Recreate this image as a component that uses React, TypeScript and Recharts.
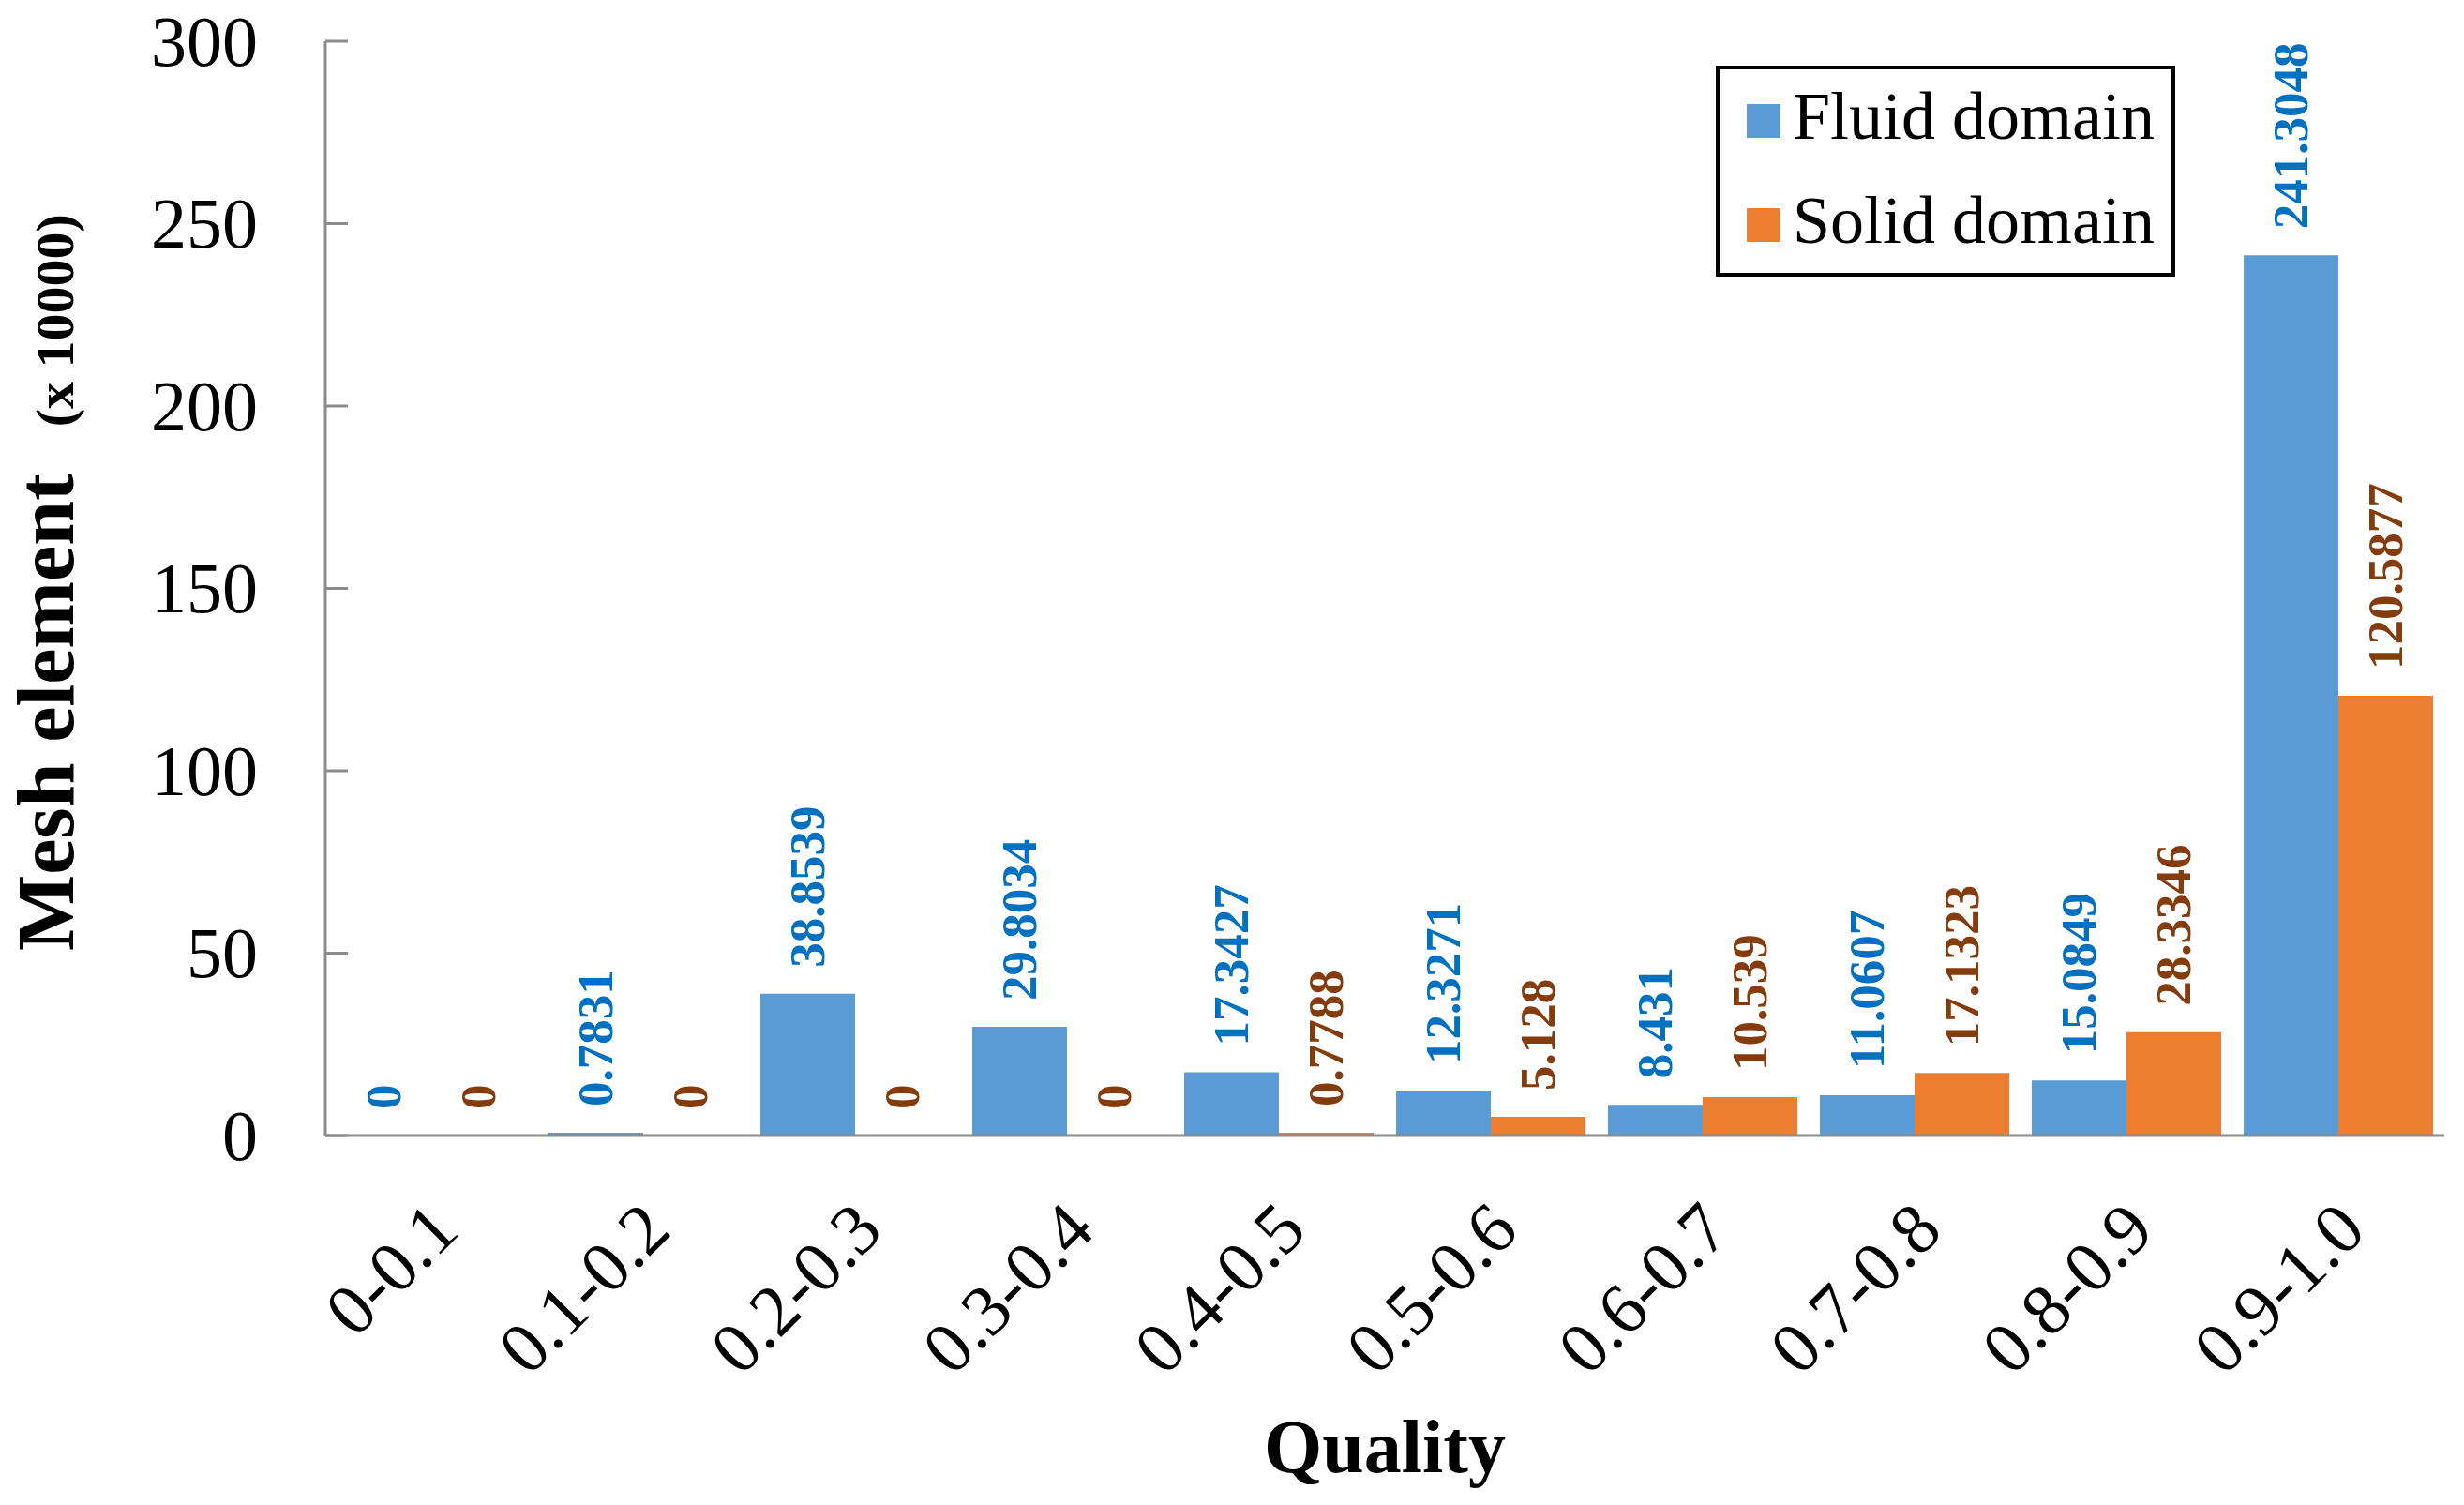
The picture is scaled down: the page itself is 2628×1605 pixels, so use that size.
import React from 'react';
import { BarChart, Bar, XAxis, YAxis, LabelList } from 'recharts';

const categories = ['0-0.1', '0.1-0.2', '0.2-0.3', '0.3-0.4', '0.4-0.5', '0.5-0.6', '0.6-0.7', '0.7-0.8', '0.8-0.9', '0.9-1.0'];
const fluidValues = [0, 0.7831, 38.8539, 29.8034, 17.3427, 12.3271, 8.431, 11.0607, 15.0849, 241.3048];
const solidValues = [0, 0, 0, 0, 0.7788, 5.128, 10.539, 17.1323, 28.3346, 120.5877];
const yTicks = [0, 50, 100, 150, 200, 250, 300];
const seriesNames = ['Fluid domain', 'Solid domain'];

const W = 2628;
const H = 1605;
const SERIF = '"Liberation Serif", "Times New Roman", Times, serif';
const AXIS = '#8c8c8c';
const FLUID = '#5B9BD5';
const SOLID = '#ED7D31';
const FLUID_LABEL = '#0070C0';
const SOLID_LABEL = '#843C0C';

const data = categories.map((c, i) => ({ cat: c, fluid: fluidValues[i], solid: solidValues[i] }));

const YTick = (props: any) => {
  const { x, y, payload } = props;
  return (
    <g>
      <line x1={x + 72} x2={x + 96} y1={y} y2={y} stroke={AXIS} strokeWidth={3} />
      <text x={x} y={y} dy="0.34em" textAnchor="end" fontFamily={SERIF} fontSize={76} fill="#000">
        {payload.value}
      </text>
    </g>
  );
};

const XTick = (props: any) => {
  const { x, y, payload } = props;
  const tx = x - 6;
  const ty = y + 66;
  return (
    <text
      x={tx}
      y={ty}
      dy="0.7em"
      textAnchor="end"
      transform={`rotate(-45 ${tx} ${ty})`}
      fontFamily={SERIF}
      fontSize={77}
      fill="#000"
    >
      {payload.value}
    </text>
  );
};

const makeLabel = (color: string) => (props: any) => {
  const vb = props.viewBox || {};
  const x = props.x ?? vb.x;
  const y = props.y ?? vb.y;
  const width = props.width ?? vb.width;
  const value = props.value;
  const cx = Number(x) + Number(width) / 2;
  const cy = Number(y) - 28;
  if (!isFinite(cx) || !isFinite(cy)) return null;
  return (
    <text
      x={cx}
      y={cy}
      textAnchor="start"
      dominantBaseline="central"
      transform={`rotate(-90 ${cx} ${cy})`}
      fontFamily={SERIF}
      fontWeight="bold"
      fontSize={53}
      fill={color}
    >
      {String(value)}
    </text>
  );
};

export default function App() {
  return (
    <div style={{ position: 'absolute', left: 0, top: 0, width: W, height: H, background: '#fff' }}>
      <BarChart
        width={W}
        height={H}
        data={data}
        margin={{ top: 44, right: 21, left: 0, bottom: 0 }}
        barCategoryGap="5.3%"
        barGap={0}
      >
        <XAxis
          dataKey="cat"
          height={394}
          interval={0}
          tickLine={false}
          tickSize={0}
          tickMargin={0}
          axisLine={{ stroke: AXIS, strokeWidth: 3 }}
          tick={<XTick />}
        />
        <YAxis
          width={347}
          domain={[0, 300]}
          ticks={yTicks}
          interval={0}
          tickLine={false}
          tickSize={0}
          tickMargin={72}
          axisLine={{ stroke: AXIS, strokeWidth: 3 }}
          tick={<YTick />}
        />
        <Bar dataKey="fluid" name={seriesNames[0]} fill={FLUID} minPointSize={0.01} isAnimationActive={false}>
          <LabelList dataKey="fluid" content={makeLabel(FLUID_LABEL)} />
        </Bar>
        <Bar dataKey="solid" name={seriesNames[1]} fill={SOLID} minPointSize={0.01} isAnimationActive={false}>
          <LabelList dataKey="solid" content={makeLabel(SOLID_LABEL)} />
        </Bar>
      </BarChart>
      <svg
        width={W}
        height={H}
        style={{ position: 'absolute', left: 0, top: 0, pointerEvents: 'none' }}
      >
        <text
          x={78}
          y={1014}
          textAnchor="start"
          transform="rotate(-90 78 1014)"
          fontFamily={SERIF}
          fontWeight="bold"
          fill="#000"
        >
          <tspan fontSize={86}>Mesh element</tspan>
          <tspan fontSize={58} dx={50}>(x 10000)</tspan>
        </text>
        <text x={1477} y={1570} textAnchor="middle" fontFamily={SERIF} fontWeight="bold" fontSize={80} fill="#000">
          Quality
        </text>
        <rect x={1832} y={72} width={486} height={221} fill="#fff" stroke="#000" strokeWidth={4} />
        {seriesNames.map((name, i) => (
          <g key={name}>
            <rect x={1863} y={111 + i * 111} width={36} height={36} fill={i === 0 ? FLUID : SOLID} />
            <text x={1912} y={148 + i * 111} fontFamily={SERIF} fontSize={72} fill="#000">
              {name}
            </text>
          </g>
        ))}
      </svg>
    </div>
  );
}
